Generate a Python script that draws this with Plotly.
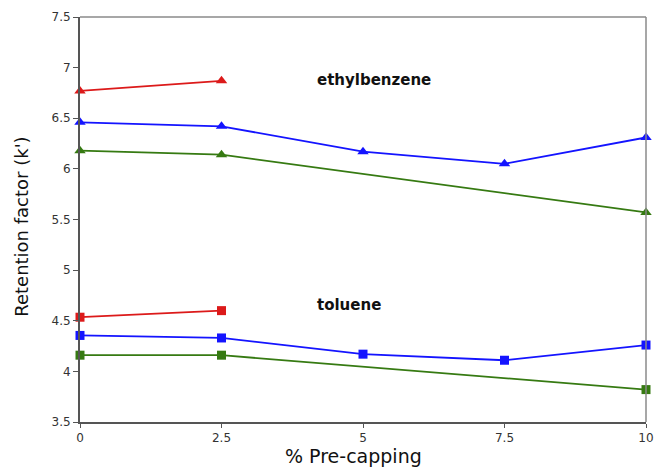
import plotly.graph_objects as go

x_all = [0, 2.5, 5, 7.5, 10]
x_red = [0, 2.5]
x_green = [0, 2.5, 10]

eth_red = [6.77, 6.87]
eth_blue = [6.46, 6.42, 6.17, 6.05, 6.31]
eth_green = [6.18, 6.14, 5.57]

tol_red = [4.535, 4.60]
tol_blue = [4.355, 4.33, 4.17, 4.11, 4.26]
tol_green = [4.16, 4.16, 3.82]

RED = "#dc1a1a"
BLUE = "#1414ff"
GREEN = "#367a12"
FONT = "DejaVu Sans"

fig = go.Figure()

def add(x, y, color, symbol, size):
    fig.add_trace(go.Scatter(
        x=x, y=y, mode="lines+markers",
        line=dict(color=color, width=1.8),
        marker=dict(symbol=symbol, size=size, color=color),
        showlegend=False, cliponaxis=False,
    ))

add(x_red, eth_red, RED, "triangle-up", 10)
add(x_all, eth_blue, BLUE, "triangle-up", 10)
add(x_green, eth_green, GREEN, "triangle-up", 10)
add(x_red, tol_red, RED, "square", 9)
add(x_all, tol_blue, BLUE, "square", 9)
add(x_green, tol_green, GREEN, "square", 9)

fig.add_annotation(x=4.16, y=6.875, text="<b>ethylbenzene</b>", showarrow=False,
                   xanchor="left", yanchor="middle",
                   font=dict(family=FONT, size=15, color="#111"))
fig.add_annotation(x=4.16, y=4.66, text="<b>toluene</b>", showarrow=False,
                   xanchor="left", yanchor="middle",
                   font=dict(family=FONT, size=15, color="#111"))

fig.add_annotation(xref="paper", yref="paper", x=-0.1025, y=0.482,
                   text="Retention factor (k')", textangle=-90, showarrow=False,
                   xanchor="center", yanchor="middle",
                   font=dict(family=FONT, size=18, color="#111"))
fig.add_annotation(xref="paper", yref="paper", x=0.483, y=-0.084,
                   text="% Pre-capping", showarrow=False,
                   xanchor="center", yanchor="middle",
                   font=dict(family=FONT, size=19, color="#111"))

# lighter top/right frame
fig.add_shape(type="line", xref="paper", yref="paper", x0=0, x1=1, y0=1, y1=1,
              line=dict(color="#8a8a8a", width=1.5))
fig.add_shape(type="line", xref="paper", yref="paper", x0=1, x1=1, y0=0, y1=1,
              line=dict(color="#8a8a8a", width=1.5))

fig.update_xaxes(range=[0, 10], tickvals=x_all, ticktext=["0", "2.5", "5", "7.5", "10"],
                 showgrid=False, zeroline=False, showline=True, linecolor="#555",
                 linewidth=2, ticks="outside", ticklen=4, tickcolor="#555",
                 automargin=False, ticklabeloverflow="allow",
                 tickfont=dict(family=FONT, size=12, color="#333"))
fig.update_yaxes(range=[3.5, 7.5], tickvals=[3.5, 4, 4.5, 5, 5.5, 6, 6.5, 7, 7.5],
                 ticktext=["3.5", "4", "4.5", "5", "5.5", "6", "6.5", "7", "7.5"],
                 showgrid=False, zeroline=False, showline=True, linecolor="#555",
                 linewidth=2, ticks="outside", ticklen=5, tickcolor="#555",
                 automargin=False, ticklabeloverflow="allow",
                 tickfont=dict(family=FONT, size=12, color="#333"))

fig.update_layout(
    width=655, height=468,
    margin=dict(l=80, r=9, t=17, b=46, autoexpand=False),
    plot_bgcolor="white", paper_bgcolor="white",
)

fig.write_html("out.html")
